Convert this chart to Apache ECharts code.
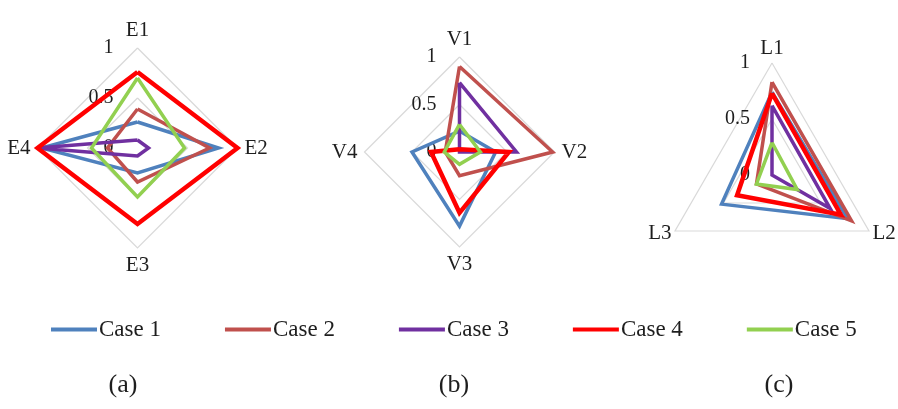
<!DOCTYPE html>
<html>
<head>
<meta charset="utf-8">
<script src="https://cdn.jsdelivr.net/npm/echarts@6/dist/echarts.min.js"></script>
<style>
html,body{margin:0;padding:0;background:#fff;}
#main{width:898px;height:409px;}
</style>
</head>
<body>
<div id="main"></div>
<script>
// ---------- data ----------
const caseNames = ['Case 1', 'Case 2', 'Case 3', 'Case 4', 'Case 5'];
const caseColors = ['#4F81BD', '#C0504D', '#7030A0', '#FF0000', '#92D050'];

const aIndicators = ['E1', 'E2', 'E3', 'E4'];
const aCase1 = [0.26, 0.81, 0.25, 0.96];
const aCase2 = [0.39, 0.72, 0.34, 0.30];
const aCase3 = [0.08, 0.11, 0.08, 1.00];
const aCase4 = [0.76, 1.00, 0.76, 1.00];
const aCase5 = [0.70, 0.47, 0.49, 0.46];

const bIndicators = ['V1', 'V2', 'V3', 'V4'];
const bCase1 = [0.22, 0.38, 0.78, 0.50];
const bCase2 = [0.90, 0.98, 0.25, 0.15];
const bCase3 = [0.73, 0.60, 0.00, 0.00];
const bCase4 = [0.03, 0.52, 0.64, 0.30];
const bCase5 = [0.29, 0.22, 0.13, 0.16];

const cIndicators = ['L1', 'L2', 'L3'];
const cCase1 = [0.74, 0.78, 0.52];
const cCase2 = [0.83, 0.82, 0.16];
const cCase3 = [0.62, 0.60, 0.00];
const cCase4 = [0.73, 0.71, 0.36];
const cCase5 = [0.29, 0.26, 0.16];

const tickLabels = ['0', '0.5', '1'];
const panelLabels = ['(a)', '(b)', '(c)'];

// ---------- build ----------
const serif = '"Liberation Serif", "DejaVu Serif", serif';
const textColor = '#1e1e1e';

// Excel draws categories clockwise; ECharts radar goes counter-clockwise,
// so reorder [0, n-1, n-2, ..., 1]
function cw(arr) {
  const out = [arr[0]];
  for (let i = arr.length - 1; i >= 1; i--) out.push(arr[i]);
  return out;
}

const panels = [
  { ind: aIndicators, data: [aCase1, aCase2, aCase3, aCase4, aCase5], cx: 137.5, cy: 148, r: 100, margin: 24, gap: 7, label: 123 },
  { ind: bIndicators, data: [bCase1, bCase2, bCase3, bCase4, bCase5], cx: 459.5, cy: 152, r: 95, margin: 23, gap: 7, label: 454 },
  { ind: cIndicators, data: [cCase1, cCase2, cCase3, cCase4, cCase5], cx: 772, cy: 175, r: 112, margin: 22, gap: 4, label: 779 }
];

const radars = [], series = [], grids = [], xAxes = [], yAxes = [], graphics = [];

panels.forEach((p, k) => {
  radars.push({
    center: [p.cx, p.cy],
    radius: p.r,
    startAngle: 90,
    shape: 'polygon',
    splitNumber: 2,
    indicator: cw(p.ind).map(n => ({ name: n, min: 0, max: 1 })),
    axisName: { color: textColor, fontFamily: serif, fontSize: 21 },
    nameGap: p.gap,
    axisLine: { show: false },
    axisTick: { show: false },
    axisLabel: { show: false },
    splitArea: { show: false },
    splitLine: { lineStyle: { color: '#d9d9d9', width: 1.2 } }
  });
  series.push({
    type: 'radar',
    radarIndex: k,
    symbol: 'none',
    silent: true,
    data: p.data.map((vals, i) => ({
      name: caseNames[i],
      value: cw(vals),
      itemStyle: { color: caseColors[i] },
      lineStyle: { color: caseColors[i], width: i === 3 ? 4.5 : 3.5, join: 'miter', miterLimit: 4 }
    }))
  });
  grids.push({ left: p.cx, top: p.cy - p.r, width: 10, height: p.r, outerBoundsMode: 'none', containLabel: false });
  xAxes.push({ type: 'value', gridIndex: k, show: false });
  yAxes.push({
    type: 'value', gridIndex: k, min: 0, max: 1, interval: 0.5,
    axisLine: { show: false }, axisTick: { show: false }, splitLine: { show: false },
    axisLabel: {
      margin: p.margin, color: textColor, fontFamily: serif, fontSize: 20,
      formatter: v => tickLabels[Math.round(v / 0.5)]
    }
  });
  graphics.push({
    type: 'text', x: p.label, y: 385,
    style: { text: panelLabels[k], fill: textColor, font: '26px ' + serif, align: 'center', verticalAlign: 'middle' }
  });
});

const chart = echarts.init(document.getElementById('main'), null, { renderer: 'canvas' });
chart.setOption({
  backgroundColor: '#ffffff',
  animation: false,
  color: caseColors,
  legend: {
    data: caseNames,
    left: 51, top: 318,
    padding: 0,
    icon: 'rect',
    itemWidth: 46, itemHeight: 4,
    itemGap: 64,
    textStyle: { color: textColor, fontFamily: serif, fontSize: 23, padding: [0, 0, 0, -3] }
  },
  radar: radars,
  grid: grids,
  xAxis: xAxes,
  yAxis: yAxes,
  series: series,
  graphic: graphics
});
</script>
</body>
</html>
